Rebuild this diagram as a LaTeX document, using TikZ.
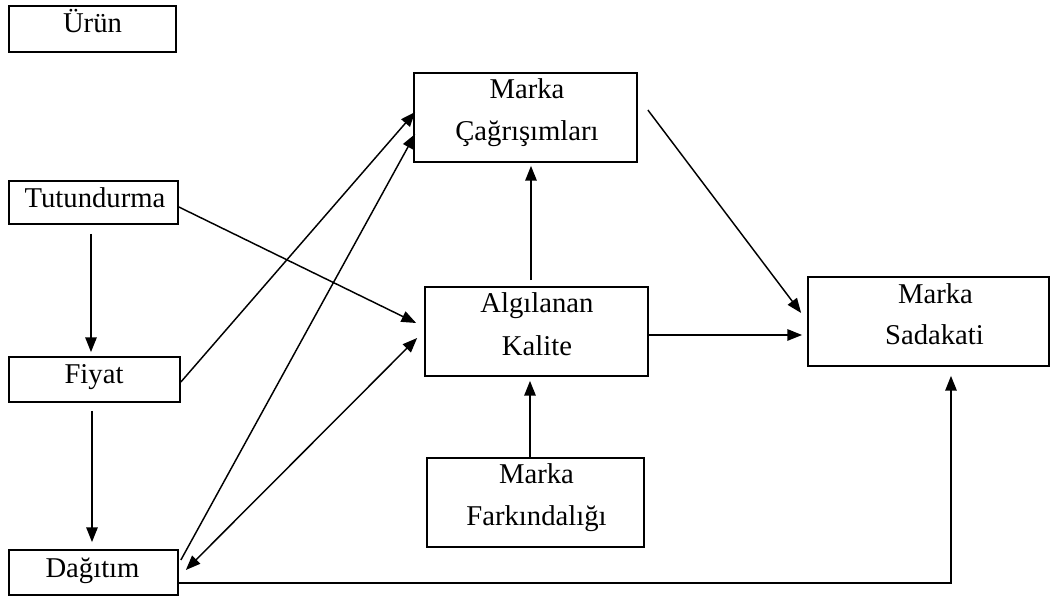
\documentclass[tikz,border=0pt]{standalone}
\usepackage{fontspec}
\setmainfont{Liberation Serif}
\usetikzlibrary{arrows.meta,calc}
\begin{document}
\begin{tikzpicture}[x=0.75pt,y=-0.75pt,
  box/.style={draw=black,line width=1.3pt,rectangle,inner sep=0pt},
  lbl/.style={anchor=base,inner sep=0pt,font=\fontsize{21.5}{25}\selectfont},
  conn/.style={line width=1.1pt,-{Triangle[length=11pt,width=8.5pt]}},
  conn2/.style={line width=1.1pt,{Triangle[length=11pt,width=8.5pt]}-{Triangle[length=11pt,width=8.5pt]}}]
\useasboundingbox (0,0) rectangle (1051,598);
% boxes
\node[box,minimum width=125.25pt,minimum height=34.5pt] (urun) at (92.5,29) {};
\node[box,minimum width=126.75pt,minimum height=32.25pt] (tut) at (93.5,202.5) {};
\node[box,minimum width=128.25pt,minimum height=33.75pt] (fiyat) at (94.5,379.5) {};
\node[box,minimum width=126.75pt,minimum height=33.75pt] (dag) at (93.5,572.5) {};
\node[box,minimum width=167.25pt,minimum height=66.75pt] (cag) at (525.5,117.5) {};
\node[box,minimum width=167.25pt,minimum height=66.75pt] (alg) at (536.5,331.5) {};
\node[box,minimum width=180.75pt,minimum height=66.75pt] (sad) at (928.5,321.5) {};
\node[box,minimum width=162.75pt,minimum height=66.75pt] (fark) at (535.5,502.5) {};
% texts
\node[lbl] (turun) at ($(urun.center)+(0,4)$) {Ürün};
\node[lbl] (ttut) at ($(tut.center)+(1.5,5)$) {Tutundurma};
\node[lbl] (tfiyat) at ($(fiyat.center)+(-0.5,4)$) {Fiyat};
\node[lbl] (tdag) at ($(dag.center)+(-1,5)$) {Dağıtım};
\node[lbl] (tcag1) at ($(cag.center)+(1.5,-19)$) {Marka};
\node[lbl] (tcag2) at ($(cag.center)+(1.5,23)$) {Çağrışımları};
\node[lbl] (talg1) at ($(alg.center)+(0.5,-19)$) {Algılanan};
\node[lbl] (talg2) at ($(alg.center)+(0.5,24)$) {Kalite};
\node[lbl] (tsad1) at ($(sad.center)+(7,-18)$) {Marka};
\node[lbl] (tsad2) at ($(sad.center)+(6,23)$) {Sadakati};
\node[lbl] (tfark1) at ($(fark.center)+(1,-19)$) {Marka};
\node[lbl] (tfark2) at ($(fark.center)+(1,23)$) {Farkındalığı};
% connectors
\draw[conn] ($(tut.south)+(-2.5,9)$) -- ($(fiyat.north)+(-3.5,-4)$);
\draw[conn] ($(fiyat.south)+(-2.5,8)$) -- ($(dag.north)+(-1.5,-7)$);
\draw[conn] ($(tut.east)+(0,4.5)$) -- ($(alg.west)+(-8,-8.5)$);
\draw[conn] ($(fiyat.east)+(0,2.5)$) -- ($(cag.west)+(2,-5.5)$);
\draw[conn] ($(dag.east)+(2,-12.5)$) -- ($(cag.west)+(2,16.5)$);
\draw[conn2] ($(dag.east)+(7,-2.5)$) -- ($(alg.west)+(-7,6.5)$);
\draw[conn] ($(alg.north)+(-5.5,-6)$) -- ($(cag.south)+(5.5,3)$);
\draw[conn] ($(fark.north)+(-5.5,0)$) -- ($(alg.south)+(-6.5,4)$);
\draw[conn] ($(alg.east)+(0,3.5)$) -- ($(sad.west)+(-5,13.5)$);
\draw[conn] ($(cag.east)+(10,-7.5)$) -- ($(sad.west)+(-6,-8.5)$);
\draw[conn] ($(dag.east)+(0,10.5)$) -| ($(sad.south)+(22.5,9)$);
\end{tikzpicture}
\end{document}
